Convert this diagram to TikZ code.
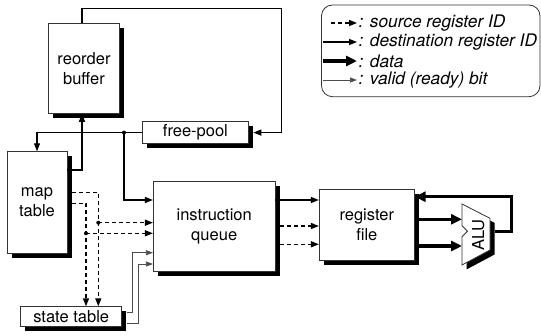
\documentclass[tikz,border=0pt]{standalone}
\usepackage{fontspec}
\setmainfont{TeX Gyre Heros}
\usetikzlibrary{arrows.meta, shadows}
\newcommand{\unitfont}{\fontsize{16.5}{20}\selectfont}
\newcommand{\legfont}{\fontsize{17.3}{20}\selectfont}

\begin{document}
\begin{tikzpicture}[x=1pt, y=-1pt,
    % ====================
    % STYLES
    % ====================
    shadowed/.style={
        general shadow={fill=black, shadow xshift=4.5pt, shadow yshift=-4.5pt}
    },
    unit/.style={
        rectangle, shadowed, draw=black!80, fill=white, line width=0.8pt,
        align=center, font=\unitfont, inner sep=0pt
    },
    destline/.style={
        draw=black, line width=1.2pt, -{Triangle[length=8pt, width=6pt]}
    },
    srcline/.style={
        draw=black, line width=1.4pt, dash pattern=on 4pt off 3pt,
        -{Triangle[length=8pt, width=6pt]}
    },
    validline/.style={
        draw=black!70, line width=0.7pt, -{Triangle[length=7pt, width=5pt]}
    },
    dataline/.style={
        draw=black, line width=3.5pt, -{Triangle[length=11pt, width=10pt]}
    },
    tap/.style={fill=black},
    legtext/.style={
        anchor=west, inner sep=1.5pt, font=\legfont\itshape
    }
]

\useasboundingbox (0,0) rectangle (541,336);

% ====================
% BLOCKS
% ====================
\node[unit, minimum width=71pt, minimum height=90pt] (rob) at (84,68.4) {reorder\\buffer};
\node[unit, minimum width=106pt, minimum height=22pt] (fp) at (195.4,132.6) {free-pool};
\node[unit, minimum width=60pt, minimum height=101.6pt] (mt) at (37,202.5) {map\\table};
\node[unit, minimum width=101pt, minimum height=20pt] (st) at (71.2,316.7) {state table};
\node[unit, minimum width=121.7pt, minimum height=90pt] (iq) at (214.2,226.7) {instruction\\queue};
\node[unit, minimum width=95pt, minimum height=70.7pt] (rf) at (366.8,224.7) {register\\file};

% ALU (drawn directly)
\draw[shadowed, draw=black!80, fill=white, line width=0.8pt]
    (462,204) -- (490,218.3) -- (490,250) -- (462,265) -- (462,236.7)
    -- (467.5,231.2) -- (462,225.7) -- cycle;
\node[rotate=90, font=\unitfont, inner sep=0pt] (alu) at (478.3,235) {ALU};
\coordinate (aluin1) at (462,219.3);
\coordinate (aluin2) at (462,246);
\coordinate (aluout) at (490,231.7);
\coordinate (aluback) at (511.7,196.7);

% Legend
\node[draw=black!80, line width=0.8pt, rounded corners=11pt,
    minimum width=218.5pt, minimum height=91.7pt] (leg) at (430.75,50.85) {};
\node[legtext] (l1) at (357,23) {: source register ID};
\node[legtext] (l2) at (357,42) {: destination register ID};
\node[legtext] (l3) at (357,61) {: data};
\node[legtext] (l4) at (357,80) {: valid (ready) bit};
\coordinate (l1s) at (331,23);
\coordinate (l2s) at (323,42);
\coordinate (l3s) at (323,61);
\coordinate (l4s) at (323,80);

% ====================
% CONNECTIONS
% ====================
\coordinate (ret) at (281.7,8.3);
\coordinate (tap1) at (124,132.6);
\coordinate (d1) at (98.3,222.7);
\coordinate (d2) at (86,233.3);

% reorder buffer back to free-pool
\draw[destline] ([xshift=-2pt]rob.north) |- (ret) |- ([xshift=4.5pt]fp.east);

% free-pool to map table and instruction queue
\draw[destline] (fp.west) -| (mt.north);
\draw[destline] (tap1) |- (iq.west |- 0,200);
\fill[tap] (tap1) circle (2pt);

% map table to reorder buffer
\draw[destline] (mt.east |- 0,170) -| ([xshift=-2pt]rob.south);

% source register IDs
\draw[srcline] (mt.east |- 0,192.7) ++(4.5,0) -| (st.north -| d1);
\draw[srcline] (mt.east |- 0,203.3) ++(4.5,0) -| (st.north -| d2);
\draw[srcline] (d1) -- (iq.west |- d1);
\draw[srcline] (d2) -- (iq.west |- d2);
\fill[tap] (d1) circle (2pt);
\fill[tap] (d2) circle (2pt);

% ready bits
\draw[validline] (st.east |- 0,312.7) ++(5,0) -- ++(5,0) |- (iq.west |- 0,252.7);
\draw[validline] (st.east |- 0,323.3) ++(5,0) -- ++(11.6,0) |- (iq.west |- 0,264);

% instruction queue to register file
\draw[destline] (iq.east |- 0,200) -- (rf.west |- 0,200);
\draw[srcline] (iq.east |- 0,226) ++(5,0) -- (rf.west |- 0,226);
\draw[srcline] (iq.east |- 0,244.3) ++(5,0) -- (rf.west |- 0,244.3);

% register file and ALU
\draw[dataline] (rf.east |- aluin1) -- (aluin1);
\draw[dataline] (rf.east |- aluin2) -- (aluin2);
\draw[dataline] (aluout) ++(4.5,0) -| (aluback) -- (rf.east |- aluback);

% legend arrows
\draw[srcline] (l1s) -- (l1.west);
\draw[destline] (l2s) -- (l2.west);
\draw[dataline] (l3s) -- (l3.west);
\draw[validline] (l4s) -- (l4.west);

\end{tikzpicture}
\end{document}
